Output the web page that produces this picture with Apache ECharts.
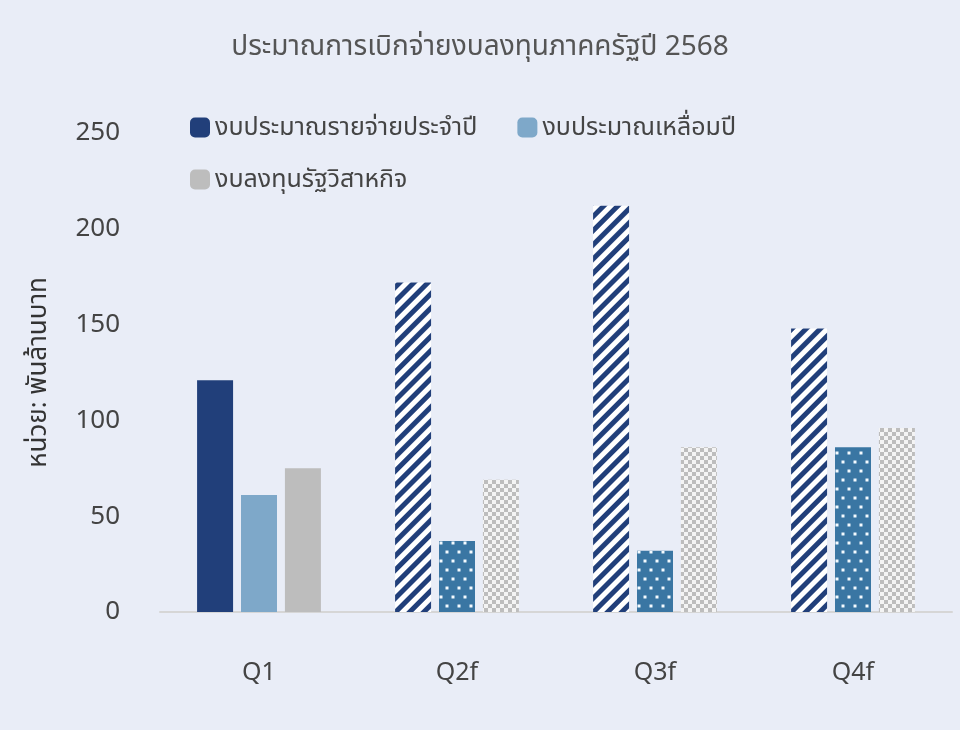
<!DOCTYPE html><html><head><meta charset="utf-8"><script src="https://cdn.jsdelivr.net/npm/echarts@6/dist/echarts.min.js"></script>
<style>body{margin:0;background:#e9edf7}#c{width:960px;height:730px}</style></head><body><div id="c"></div><script>
const categories=['Q1','Q2f','Q3f','Q4f'];
const annual=[121,172,212,148];
const carry=[61,37,32,86];
const soe=[75,69,86,96];
const names=['งบประมาณรายจ่ายประจำปี','งบประมาณเหลื่อมปี','งบลงทุนรัฐวิสาหกิจ'];
const font='"Noto Sans", "Noto Sans Thai", sans-serif';
const stripe={symbol:'rect',color:'#213f7a',dashArrayX:[1,0],dashArrayY:[5,5],rotation:-Math.PI/4,symbolSize:1};
const dots={symbol:'rect',color:'#f4fbff',symbolSize:0.5,dashArrayX:[[6,6],[0,6,6,0]],dashArrayY:[6,3]};
const check={symbol:'rect',color:'#bdbdbd',symbolSize:1,dashArrayX:[[4,4],[0,4,4,0]],dashArrayY:[4,0]};
function mk(vals,base,decal){return vals.map((v,i)=>i===0?{value:v,itemStyle:{color:base[0]}}:{value:v,itemStyle:{color:base[1],decal:decal}});}
const lt={fontFamily:font,fontSize:25,color:'#444'};
const chart=echarts.init(document.getElementById('c'));
chart.setOption({backgroundColor:'#e9edf7',
title:{text:'ประมาณการเบิกจ่ายงบลงทุนภาคครัฐปี 2568',left:'center',top:28,textStyle:{fontFamily:font,fontSize:28,fontWeight:'normal',color:'#555'}},
legend:[{left:185,top:110,itemWidth:20,itemHeight:20,itemGap:40,textStyle:lt,data:[{name:names[0],itemStyle:{color:'#213f7a',decal:'none'}},{name:names[1],itemStyle:{color:'#7ea8c9',decal:'none'}}]},
{left:185,top:162,itemWidth:20,itemHeight:20,textStyle:lt,data:[{name:names[2],itemStyle:{color:'#bdbdbd',decal:'none'}}]}],
grid:{left:160,right:8,top:133,bottom:118},
xAxis:{type:'category',data:categories,axisTick:{show:false},axisLine:{lineStyle:{color:'#d6d6d6',width:2}},axisLabel:{fontFamily:font,fontSize:25,color:'#444',margin:48}},
yAxis:{type:'value',min:0,max:250,interval:50,splitLine:{show:false},axisLabel:{fontFamily:font,fontSize:26,color:'#444',margin:40},name:'หน่วย: พันล้านบาท',nameLocation:'middle',nameGap:108,nameTextStyle:{fontFamily:font,fontSize:26,color:'#333'}},
series:[
{name:names[0],type:'bar',barWidth:36,barGap:'22%',data:mk(annual,['#213f7a','#fff'],stripe)},
{name:names[1],type:'bar',barWidth:36,data:mk(carry,['#7ea8c9','#3a76a3'],dots)},
{name:names[2],type:'bar',barWidth:36,data:mk(soe,['#bdbdbd','#f4f4f4'],check)}]});
</script></body></html>
